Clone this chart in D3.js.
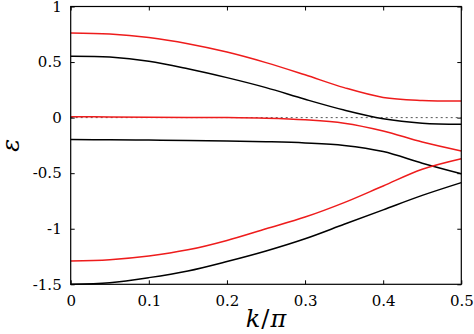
<!DOCTYPE html>
<html>
<head>
<meta charset="utf-8">
<script src="https://cdn.jsdelivr.net/npm/d3@7/dist/d3.min.js"></script>
<style>
  html, body { margin: 0; padding: 0; background: #fff; }
  svg { display: block; }
</style>
</head>
<body>
<svg id="chart" width="474" height="334"></svg>
<script>
// Momentum grid (k/π) and band energies
const kValues = [0, 0.05, 0.1, 0.15, 0.2, 0.25, 0.3, 0.35, 0.4, 0.45, 0.5];

const redUpper  = [0.762, 0.752, 0.72, 0.665, 0.59, 0.495, 0.385, 0.27, 0.182, 0.155, 0.15];
const redMiddle = [0.008, 0.006, 0.004, 0.002, 0.0, -0.006, -0.02, -0.05, -0.12, -0.22, -0.30];
const redLower  = [-1.29, -1.278, -1.245, -1.19, -1.105, -1.0, -0.895, -0.765, -0.615, -0.465, -0.37];

const blackUpper  = [0.552, 0.545, 0.508, 0.44, 0.36, 0.27, 0.165, 0.068, -0.01, -0.05, -0.06];
const blackMiddle = [-0.198, -0.199, -0.202, -0.205, -0.21, -0.217, -0.228, -0.25, -0.305, -0.41, -0.505];
const blackLower  = [-1.5, -1.485, -1.44, -1.38, -1.295, -1.2, -1.09, -0.96, -0.83, -0.70, -0.585];

const xTicks = [0, 0.1, 0.2, 0.3, 0.4, 0.5];
const xTickLabels = ["0", "0.1", "0.2", "0.3", "0.4", "0.5"];
const yTicks = [1, 0.5, 0, -0.5, -1, -1.5];
const yTickLabels = ["1", "0.5", "0", "-0.5", "-1", "-1.5"];

const RED = "#ee1c1c";
const FONT = "'DejaVu Serif', 'Times New Roman', serif";
const series = [
  { values: redUpper, color: RED },
  { values: blackUpper, color: "#000" },
  { values: redMiddle, color: RED },
  { values: blackMiddle, color: "#000" },
  { values: redLower, color: RED },
  { values: blackLower, color: "#000" }
];

const svg = d3.select("#chart");
const plotLeft = 70.7, plotRight = 461.3, plotTop = 6.5, plotBottom = 284.3;

const x = d3.scaleLinear().domain([0, 0.5]).range([plotLeft, plotRight]);
const y = d3.scaleLinear().domain([-1.5, 1]).range([plotBottom, plotTop]);

// zero reference line
svg.append("line")
  .attr("x1", x(0)).attr("x2", x(0.5))
  .attr("y1", y(0)).attr("y2", y(0))
  .attr("stroke", "#555").attr("stroke-width", 1)
  .attr("stroke-dasharray", "2,3");

// bands
const line = d3.line()
  .x((d, i) => x(kValues[i]))
  .y(d => y(d))
  .curve(d3.curveCatmullRom.alpha(0.5));

svg.append("g").selectAll("path")
  .data(series)
  .join("path")
  .attr("d", s => line(s.values))
  .attr("fill", "none")
  .attr("stroke", s => s.color)
  .attr("stroke-width", 1.5);

// axes with inward ticks on all four sides
const tickLen = 4;
const fmtX = (d, i) => xTickLabels[i];
const fmtY = (d, i) => yTickLabels[i];

const axisStyle = g => {
  g.attr("font-family", null).attr("font-size", null);
  g.select(".domain").remove();
  g.selectAll(".tick line").attr("stroke", "#000").attr("stroke-width", 1);
  g.selectAll(".tick text")
    .attr("fill", "#000")
    .style("font-family", FONT)
    .style("font-size", "15px");
};

svg.append("g")
  .attr("transform", `translate(0,${plotBottom})`)
  .call(d3.axisBottom(x).tickValues(xTicks).tickFormat(fmtX).tickSizeInner(-tickLen).tickSizeOuter(0).tickPadding(10))
  .call(axisStyle)
  .selectAll(".tick text").attr("dy", "0.75em");

svg.append("g")
  .attr("transform", `translate(0,${plotTop})`)
  .call(d3.axisTop(x).tickValues(xTicks).tickFormat("").tickSizeInner(-tickLen).tickSizeOuter(0))
  .call(axisStyle);

svg.append("g")
  .attr("transform", `translate(${plotLeft},0)`)
  .call(d3.axisLeft(y).tickValues(yTicks).tickFormat(fmtY).tickSizeInner(-tickLen).tickSizeOuter(0).tickPadding(9))
  .call(axisStyle);

svg.append("g")
  .attr("transform", `translate(${plotRight},0)`)
  .call(d3.axisRight(y).tickValues(yTicks).tickFormat("").tickSizeInner(-tickLen).tickSizeOuter(0))
  .call(axisStyle);

// frame
svg.append("rect")
  .attr("x", plotLeft).attr("y", plotTop)
  .attr("width", plotRight - plotLeft).attr("height", plotBottom - plotTop)
  .attr("fill", "none").attr("stroke", "#000").attr("stroke-width", 1.2);

// axis titles
const xt = svg.append("text")
  .attr("x", (plotLeft + plotRight) / 2).attr("y", 327)
  .attr("text-anchor", "middle")
  .style("font-family", FONT)
  .style("font-size", "24px");
xt.append("tspan").style("font-style", "italic").text("k");
xt.append("tspan").attr("dx", 1).text("/");
xt.append("tspan").attr("dx", 1).style("font-style", "italic").text("π");

svg.append("text")
  .attr("transform", `translate(19,${(plotTop + plotBottom) / 2}) rotate(-90)`)
  .attr("text-anchor", "middle")
  .style("font-family", FONT)
  .style("font-size", "24px")
  .style("font-style", "italic")
  .text("ε");
</script>
</body>
</html>
